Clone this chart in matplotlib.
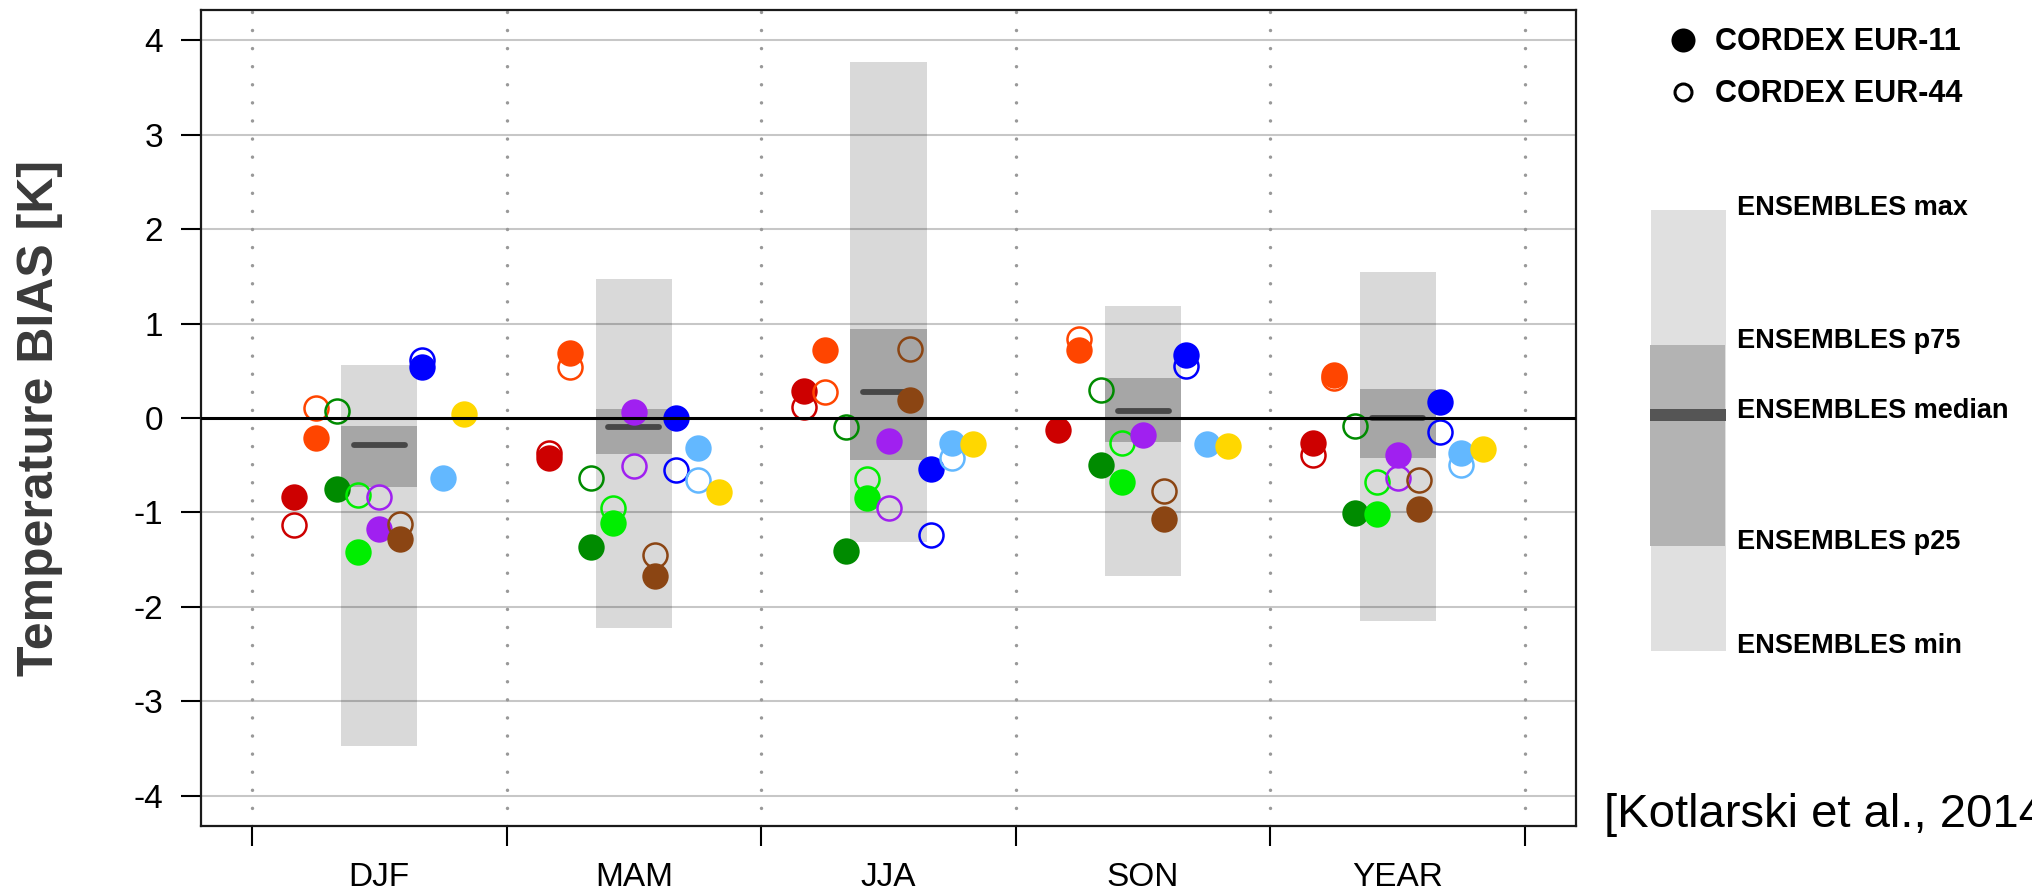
import matplotlib
matplotlib.use("Agg")
import matplotlib.pyplot as plt
import numpy as np
from matplotlib.patches import Rectangle

plt.rcParams['font.family'] = ['Liberation Sans', 'DejaVu Sans']
plt.rcParams['axes.unicode_minus'] = False

# ---------------- data ----------------
seasons = ["DJF", "MAM", "JJA", "SON", "YEAR"]

ens_min = [-3.47, -2.22, -1.31, -1.67, -2.15]
ens_p25 = [-0.73, -0.38, -0.45, -0.25, -0.42]
ens_med = [-0.29, -0.10, 0.27, 0.075, 0.005]
ens_p75 = [-0.08, 0.10, 0.94, 0.425, 0.306]
ens_max = [0.56, 1.47, 3.77, 1.19, 1.55]

model_colors = ["#CD0000", "#FF4500", "#008B00", "#00EE00", "#A020F0",
                "#8B4513", "#0000FF", "#63B8FF", "#FFD700"]

nan = np.nan
# CORDEX EUR-11 (filled), one row per model, columns = seasons
eur11_red = [-0.84, -0.42, 0.29, -0.13, -0.27]
eur11_orange = [-0.21, 0.69, 0.72, 0.72, 0.46]
eur11_darkgreen = [-0.75, -1.37, -1.41, -0.50, -1.01]
eur11_green = [-1.42, -1.11, -0.85, -0.68, -1.02]
eur11_purple = [-1.175, 0.066, -0.24, -0.18, -0.39]
eur11_brown = [-1.28, -1.675, 0.19, -1.07, -0.96]
eur11_blue = [0.535, 0.0, -0.54, 0.665, 0.165]
eur11_lightblue = [-0.64, -0.32, -0.27, -0.28, -0.37]
eur11_yellow = [0.04, -0.78, -0.28, -0.30, -0.33]

# CORDEX EUR-44 (open)
eur44_red = [-1.13, -0.37, 0.12, nan, -0.39]
eur44_orange = [0.11, 0.54, 0.27, 0.835, 0.42]
eur44_darkgreen = [0.075, -0.64, -0.095, 0.30, -0.09]
eur44_green = [-0.82, -0.95, -0.65, -0.26, -0.68]
eur44_purple = [-0.84, -0.51, -0.955, nan, -0.64]
eur44_brown = [-1.12, -1.45, 0.73, -0.77, -0.66]
eur44_blue = [0.61, -0.55, -1.24, 0.553, -0.15]
eur44_lightblue = [nan, -0.66, -0.42, nan, -0.50]
eur44_yellow = [nan, nan, nan, nan, nan]

eur11 = [eur11_red, eur11_orange, eur11_darkgreen, eur11_green, eur11_purple,
         eur11_brown, eur11_blue, eur11_lightblue, eur11_yellow]
eur44 = [eur44_red, eur44_orange, eur44_darkgreen, eur44_green, eur44_purple,
         eur44_brown, eur44_blue, eur44_lightblue, eur44_yellow]

yticks = [-4, -3, -2, -1, 0, 1, 2, 3, 4]
ytick_labels = ["-4", "-3", "-2", "-1", "0", "1", "2", "3", "4"]

legend_points = ["CORDEX EUR-11", "CORDEX EUR-44"]
legend_box = ["ENSEMBLES max", "ENSEMBLES p75", "ENSEMBLES median",
              "ENSEMBLES p25", "ENSEMBLES min"]
citation = "[Kotlarski et al., 2014]"

# ---------------- figure ----------------
W, H = 2033, 896
fig = plt.figure(figsize=(W / 100, H / 100), dpi=100)
ax = fig.add_axes([201 / W, 1 - 826 / H, (1576 - 201) / W, (826 - 10) / H])
ax.set_xlim(0.3, 5.7)
ax.set_ylim(-4.32, 4.32)

xc = np.arange(1, len(seasons) + 1)
box_w = 0.3
for i in range(len(seasons)):
    ax.add_patch(Rectangle((xc[i] - box_w / 2, ens_min[i]), box_w,
                           ens_max[i] - ens_min[i], fc='#d9d9d9', ec='none', zorder=1))
    ax.add_patch(Rectangle((xc[i] - box_w / 2, ens_p25[i]), box_w,
                           ens_p75[i] - ens_p25[i], fc='#a6a6a6', ec='none', zorder=1.1))
    ax.plot([xc[i] - 0.1, xc[i] + 0.1], [ens_med[i], ens_med[i]], color='#474747',
            lw=4.2, solid_capstyle='round', zorder=1.2)

# horizontal grid lines
for yv in yticks:
    if yv != 0:
        ax.axhline(yv, color='black', alpha=0.22, lw=1.5, zorder=1.5)

# dotted separators
bounds = np.arange(0.5, len(seasons) + 1, 1.0)
for b in bounds:
    ax.axvline(b, color='#999999', lw=2.5, ls=(0, (0.01, 5.2)),
               dash_capstyle='round', zorder=1.5)

# points
n_models = len(model_colors)
for m in range(n_models):
    off = (m - (n_models - 1) / 2) / 12.0
    ax.plot(xc + off, eur44[m], 'o', mfc='none', mec=model_colors[m], ms=17.3,
            mew=1.8, ls='none', zorder=3)
    ax.plot(xc + off, eur11[m], 'o', color=model_colors[m], ms=19, mew=0,
            ls='none', zorder=3)

ax.axhline(0, color='black', lw=2.2, zorder=5)

# axes styling
ax.set_yticks(yticks)
ax.set_yticklabels(ytick_labels)
ax.tick_params(axis='y', length=14.4, width=1.5, pad=13, labelsize=24,
               direction='out', colors='black')
ax.set_xticks(bounds)
ax.set_xticklabels([])
ax.set_xticks(xc, minor=True)
ax.set_xticklabels(seasons, minor=True)
ax.tick_params(axis='x', which='major', length=14.4, width=1.5, direction='out')
ax.tick_params(axis='x', which='minor', length=0, pad=26, labelsize=24)
for sp in ax.spines.values():
    sp.set_linewidth(1.6)
    sp.set_color('#1a1a1a')

fig.text(40 / W, 1 - 418 / H, "Temperature BIAS [K]", rotation=90, fontsize=36,
         fontweight='bold', color='#3a3a3a', ha='center', va='center')

# ---------------- legend (outside, figure pixel coords) ----------------
lax = fig.add_axes([0, 0, 1, 1])
lax.set_xlim(0, W)
lax.set_ylim(H, 0)
lax.axis('off')

lax.plot([1683], [40], 'o', color='black', ms=17.3, mew=0)
lax.plot([1683], [92], 'o', mfc='none', mec='black', ms=12.2, mew=2.2)
lax.text(1715, 50, legend_points[0], fontsize=22, fontweight='bold', ha='left', va='baseline')
lax.text(1715, 102, legend_points[1], fontsize=22, fontweight='bold', ha='left', va='baseline')

lax.add_patch(Rectangle((1651, 210), 75, 441, fc='#e0e0e0', ec='none'))
lax.add_patch(Rectangle((1650, 345), 75, 201, fc='#b3b3b3', ec='none'))
lax.add_patch(Rectangle((1650, 409), 76, 12, fc='#555555', ec='none'))
for txt, yb in zip(legend_box, [215, 348, 418, 549, 653]):
    lax.text(1737, yb, txt, fontsize=19.5, fontweight='bold', ha='left', va='baseline')

# citation runs off the right edge, as in the reference
lax.text(1604, 827, citation, fontsize=34, ha='left', va='baseline', color='black')

fig.savefig("out.png", dpi=100)
